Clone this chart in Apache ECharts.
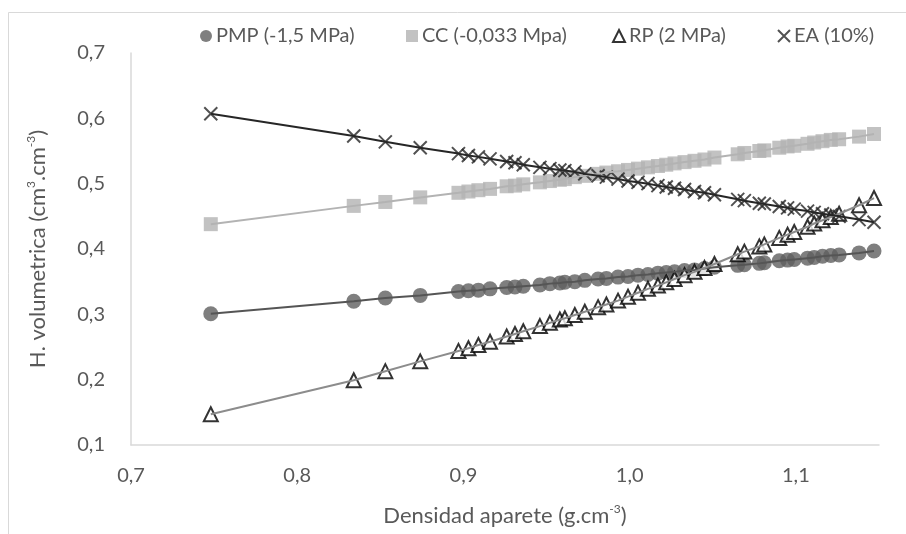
<!DOCTYPE html>
<html>
<head>
<meta charset="utf-8">
<script src="https://cdn.jsdelivr.net/npm/echarts@6/dist/echarts.min.js"></script>
<style>
html,body{margin:0;padding:0;background:#fff;}
#chart{width:906px;height:534px;}
</style>
</head>
<body>
<div id="chart"></div>
<script>
// Densidad aparente (g.cm-3) shared by all series
const densidad = [0.748, 0.834, 0.853, 0.874, 0.897, 0.903, 0.909, 0.916, 0.926, 0.931, 0.936, 0.946, 0.952, 0.958, 0.961, 0.967, 0.973, 0.981, 0.986, 0.993, 0.999, 1.005, 1.011, 1.017, 1.022, 1.027, 1.033, 1.039, 1.045, 1.051, 1.065, 1.069, 1.078, 1.081, 1.090, 1.095, 1.099, 1.107, 1.111, 1.116, 1.121, 1.126, 1.138, 1.147];
const pmp = [0.301, 0.320, 0.325, 0.329, 0.335, 0.336, 0.337, 0.339, 0.341, 0.342, 0.343, 0.345, 0.347, 0.348, 0.349, 0.350, 0.352, 0.354, 0.355, 0.357, 0.358, 0.360, 0.361, 0.363, 0.364, 0.365, 0.367, 0.368, 0.370, 0.372, 0.375, 0.376, 0.378, 0.379, 0.382, 0.383, 0.384, 0.386, 0.387, 0.389, 0.390, 0.391, 0.394, 0.397];
const cc = [0.438, 0.466, 0.472, 0.479, 0.486, 0.488, 0.490, 0.492, 0.496, 0.497, 0.499, 0.502, 0.504, 0.506, 0.507, 0.510, 0.512, 0.515, 0.517, 0.519, 0.521, 0.523, 0.525, 0.527, 0.529, 0.531, 0.533, 0.535, 0.537, 0.540, 0.545, 0.547, 0.550, 0.551, 0.555, 0.557, 0.558, 0.561, 0.563, 0.565, 0.567, 0.568, 0.572, 0.576];
const rp = [0.147, 0.199, 0.213, 0.228, 0.244, 0.248, 0.253, 0.258, 0.266, 0.270, 0.274, 0.282, 0.287, 0.292, 0.294, 0.299, 0.304, 0.311, 0.315, 0.321, 0.327, 0.333, 0.339, 0.344, 0.349, 0.354, 0.360, 0.365, 0.371, 0.377, 0.392, 0.396, 0.404, 0.407, 0.417, 0.422, 0.426, 0.434, 0.439, 0.444, 0.449, 0.454, 0.467, 0.478];
const ea = [0.607, 0.573, 0.564, 0.555, 0.546, 0.543, 0.541, 0.538, 0.534, 0.532, 0.529, 0.525, 0.523, 0.521, 0.520, 0.518, 0.515, 0.512, 0.510, 0.507, 0.504, 0.502, 0.500, 0.497, 0.495, 0.493, 0.491, 0.488, 0.486, 0.483, 0.476, 0.474, 0.470, 0.469, 0.465, 0.463, 0.461, 0.458, 0.456, 0.454, 0.452, 0.450, 0.445, 0.441];

const seriesNames = ['PMP (-1,5 MPa)', 'CC (-0,033 Mpa)', 'RP (2 MPa)', 'EA (10%)'];
const xTickLabels = ['0,7', '0,8', '0,9', '1,0', '1,1'];
const yTickLabels = ['0,1', '0,2', '0,3', '0,4', '0,5', '0,6', '0,7'];

const FONT = 'Lato';
const pairs = ys => densidad.map((x, i) => [x, ys[i]]);
const X_PATH = 'path://M0,0L10,10M10,0L0,10';

const markerDefs = [
  {data: pmp, symbol: 'circle', size: 15, item: {color: '#5f5f5f'}},
  {data: cc, symbol: 'rect', size: 14, item: {color: '#b3b3b3'}},
  {data: rp, symbol: 'triangle', size: 14, item: {color: '#ffffff', borderColor: '#000000', borderWidth: 2}},
  {data: ea, symbol: X_PATH, size: 13, item: {color: 'rgba(0,0,0,0)', borderColor: '#262626', borderWidth: 2}}
];
const lineColors = ['#555555', '#b3b3b3', '#8c8c8c', '#262626'];
const legendLefts = [195, 401, 607, 772];

const series = [];
markerDefs.forEach((d, i) => {
  series.push({
    name: seriesNames[i], type: 'scatter', data: pairs(d.data),
    symbol: d.symbol, symbolSize: d.size, itemStyle: d.item, z: 2 + i,
    silent: true
  });
});
markerDefs.forEach((d, i) => {
  series.push({
    name: 'line' + i, type: 'line', data: pairs(d.data), showSymbol: false,
    lineStyle: {color: lineColors[i], width: 2}, z: 10 + i, silent: true
  });
});

const legends = seriesNames.map((n, i) => ({
  data: [n], top: 21, left: legendLefts[i],
  itemWidth: 12, itemHeight: 12, itemGap: 0, selectedMode: false,
  textStyle: {fontFamily: FONT, fontSize: 20, color: '#595959', padding: [0, 0, 0, -1]}
}));

const supRich = {sup: {fontSize: 12, verticalAlign: 'top', lineHeight: 12, color: '#595959', fontFamily: FONT}};

const chart = echarts.init(document.getElementById('chart'), null, {renderer: 'canvas'});
chart.setOption({
  animation: false,
  backgroundColor: '#ffffff',
  textStyle: {fontFamily: FONT},
  grid: {left: 131, right: 27, top: 53, bottom: 84},
  legend: legends,
  graphic: [
    {type: 'line', silent: true, shape: {x1: 8.5, y1: 12.5, x2: 8.5, y2: 534}, style: {stroke: '#d9d9d9', lineWidth: 1}},
    {type: 'line', silent: true, shape: {x1: 8.5, y1: 12.5, x2: 906, y2: 12.5}, style: {stroke: '#d9d9d9', lineWidth: 1}}
  ],
  xAxis: {
    type: 'value', min: 0.7, max: 1.15, interval: 0.1,
    name: 'Densidad aparete (g.cm{sup|-3})', nameLocation: 'middle', nameGap: 58,
    nameTextStyle: {fontFamily: FONT, fontSize: 22, color: '#595959', lineHeight: 26, rich: supRich},
    axisLine: {lineStyle: {color: '#d9d9d9', width: 1.5}},
    axisTick: {show: false},
    splitLine: {show: false},
    axisLabel: {margin: 21, fontSize: 20, color: '#595959', fontFamily: FONT, showMaxLabel: false,
      formatter: (v, idx) => xTickLabels[idx] || ''}
  },
  yAxis: {
    type: 'value', min: 0.1, max: 0.7, interval: 0.1,
    name: 'H. volumetrica (cm{sup|3}.cm{sup|-3})', nameLocation: 'middle', nameGap: 80,
    nameTextStyle: {fontFamily: FONT, fontSize: 22, color: '#595959', lineHeight: 26, rich: supRich},
    axisLine: {show: true, lineStyle: {color: '#d9d9d9', width: 1.5}},
    axisTick: {show: false},
    splitLine: {show: false},
    axisLabel: {margin: 26, fontSize: 20, color: '#595959', fontFamily: FONT,
      formatter: (v, idx) => yTickLabels[idx] || ''}
  },
  series: series
});
</script>
</body>
</html>
